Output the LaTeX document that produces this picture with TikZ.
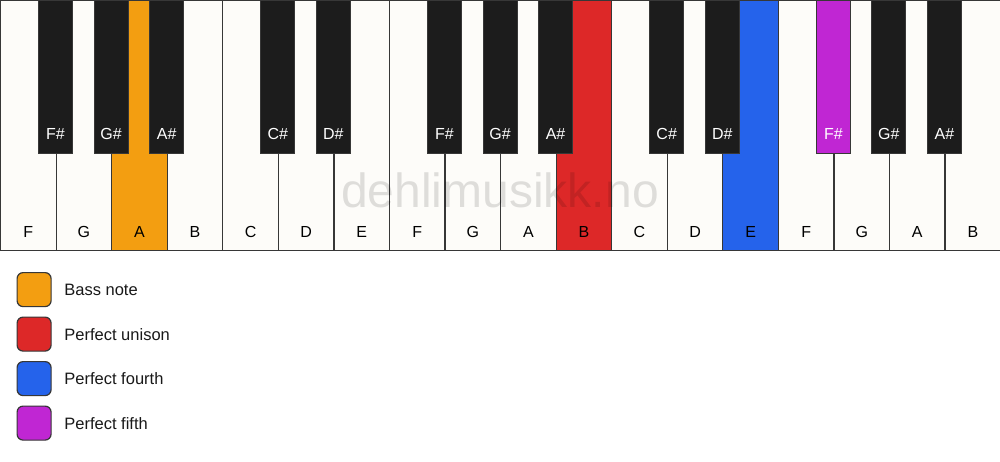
\documentclass[tikz,border=0pt]{standalone}
\usepackage{fontspec}
\setmainfont{Liberation Sans}
\usetikzlibrary{positioning}
\definecolor{ivory}{RGB}{253,252,249}
\definecolor{keyblack}{RGB}{28,28,28}
\definecolor{keyline}{RGB}{55,55,55}
\definecolor{bassorange}{RGB}{243,158,17}
\definecolor{unisonred}{RGB}{221,40,40}
\definecolor{fourthblue}{RGB}{37,99,235}
\definecolor{fifthpurple}{RGB}{192,38,211}
\tikzset{
    whitekey/.style = {rectangle, draw=keyline, line width=1.2pt, anchor=north west, inner sep=0pt, minimum width=55.5556pt, minimum height=250pt},
    blackkey/.style = {rectangle, draw=keyline, line width=1pt, anchor=north, inner sep=0pt, minimum width=34pt, minimum height=153pt},
    keytext/.style = {inner sep=0pt, text height=11.5pt, text depth=0pt},
    legendbox/.style = {rectangle, rounded corners=6pt, draw=keyline, line width=1.2pt, anchor=north west, inner sep=0pt, minimum size=34pt},
    legendtext/.style = {inner sep=0pt, anchor=west, text=black!90, font=\fontsize{16.5}{20}\selectfont},
    watermark/.style = {inner sep=0pt, anchor=base, text=black, text opacity=0.12, font=\fontsize{48}{56}\selectfont}
}
\begin{document}
\begin{tikzpicture}[x=1pt, y=-1pt, font=\fontsize{16}{19}\selectfont]
  \useasboundingbox (0,0) rectangle (1000,461);
  \fill[white] (0,0) rectangle (1000,461);
  % white keys
  \foreach \n/\c [count=\i from 0] in {F/ivory,G/ivory,A/bassorange,B/ivory,C/ivory,D/ivory,E/ivory,F/ivory,G/ivory,A/ivory,B/unisonred,C/ivory,D/ivory,E/fourthblue,F/ivory,G/ivory,A/ivory,B/ivory} {
    \node[whitekey, fill=\c] (w\i) at (\i*55.5556,0) {};
    \node[keytext, above=14pt of w\i.south] (tw\i) {\n};
  }
  % black keys
  \foreach \n/\k/\c in {F\#/0/keyblack,G\#/1/keyblack,A\#/2/keyblack,C\#/4/keyblack,D\#/5/keyblack,F\#/7/keyblack,G\#/8/keyblack,A\#/9/keyblack,C\#/11/keyblack,D\#/12/keyblack,F\#/14/fifthpurple,G\#/15/keyblack,A\#/16/keyblack} {
    \node[blackkey, fill=\c] (b\k) at ({(\k+1)*55.5556},0) {};
    \node[keytext, text=white, above=14pt of b\k.south] (tb\k) {\n};
  }
  \node[watermark] (mark) at (500,207) {dehlimusikk.no};
  % legend
  \foreach \c/\t/\y [count=\j] in {bassorange/Bass note/272,unisonred/Perfect unison/316.5,fourthblue/Perfect fourth/361,fifthpurple/Perfect fifth/405.5} {
    \node[legendbox, fill=\c] (lb\j) at (16.5,\y) {};
    \node[legendtext, right=12.5pt of lb\j] (lt\j) {\t};
  }
\end{tikzpicture}
\end{document}
